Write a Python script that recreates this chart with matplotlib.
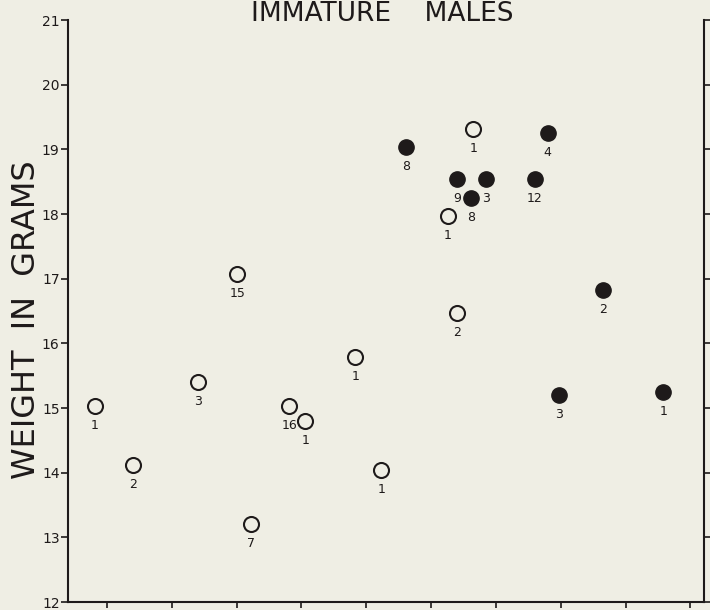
"""Immature males: weight in grams, open vs filled groups with sample counts."""
import matplotlib
matplotlib.use("Agg")
import matplotlib.pyplot as plt

# ---- data -----------------------------------------------------------------
open_x = [0.81, 1.40, 2.40, 3.01, 3.22, 3.81, 4.06, 4.83, 5.23, 6.26, 6.40, 6.65]
open_y = [15.03, 14.12, 15.40, 17.07, 13.20, 15.03, 14.80, 15.79, 14.04, 17.97, 16.47, 19.31]
open_n = ["1", "2", "3", "15", "7", "16", "1", "1", "1", "1", "2", "1"]

filled_x = [5.61, 6.40, 6.62, 6.85, 7.60, 7.80, 7.97, 8.65, 9.58]
filled_y = [19.04, 18.54, 18.25, 18.54, 18.54, 19.25, 15.20, 16.82, 15.25]
filled_n = ["8", "9", "8", "3", "12", "4", "3", "2", "1"]

y_ticks = list(range(12, 22))
x_ticks = list(range(1, 11))

BG = "#efeee4"
INK = "#1e1a1a"

fig = plt.figure(figsize=(7.1, 6.1), dpi=100, facecolor=BG)
ax = fig.add_axes([0.0958, 0.0131, 0.8957, 0.9541])
ax.set_facecolor(BG)

ax.plot(open_x, open_y, "o", ms=10.8, mfc=BG, mec=INK, mew=1.5, ls="none")
ax.plot(filled_x, filled_y, "o", ms=11, mfc=INK, mec=INK, mew=1.0, ls="none")

for x, y, n in zip(open_x + filled_x, open_y + filled_y, open_n + filled_n):
    ax.annotate(n, (x, y), xytext=(0, -14), textcoords="offset points",
                ha="center", va="center", fontsize=9, color=INK)

ax.set_xlim(0.4, 10.21)
ax.set_ylim(12, 21)
ax.set_yticks(y_ticks)
ax.set_xticks(x_ticks)
ax.set_xticklabels([])
ax.tick_params(axis="y", direction="out", length=5, width=1.2, colors=INK,
               labelsize=10, pad=1, left=True, right=True, labelright=False)
ax.tick_params(axis="x", direction="out", length=4, width=1.2, colors=INK)

ax.spines["top"].set_visible(False)
for s in ("left", "right", "bottom"):
    ax.spines[s].set_color(INK)
    ax.spines[s].set_linewidth(1.5)

fig.text(0.539, 1 - 21 / 610, "IMMATURE    MALES", ha="center", va="baseline",
         fontsize=19, color=INK)
fig.text(27 / 710, 1 - 320 / 610, "WEIGHT  IN  GRAMS", rotation=90,
         ha="center", va="center", fontsize=23, color=INK)

fig.savefig("out.png", dpi=100, facecolor=BG)
